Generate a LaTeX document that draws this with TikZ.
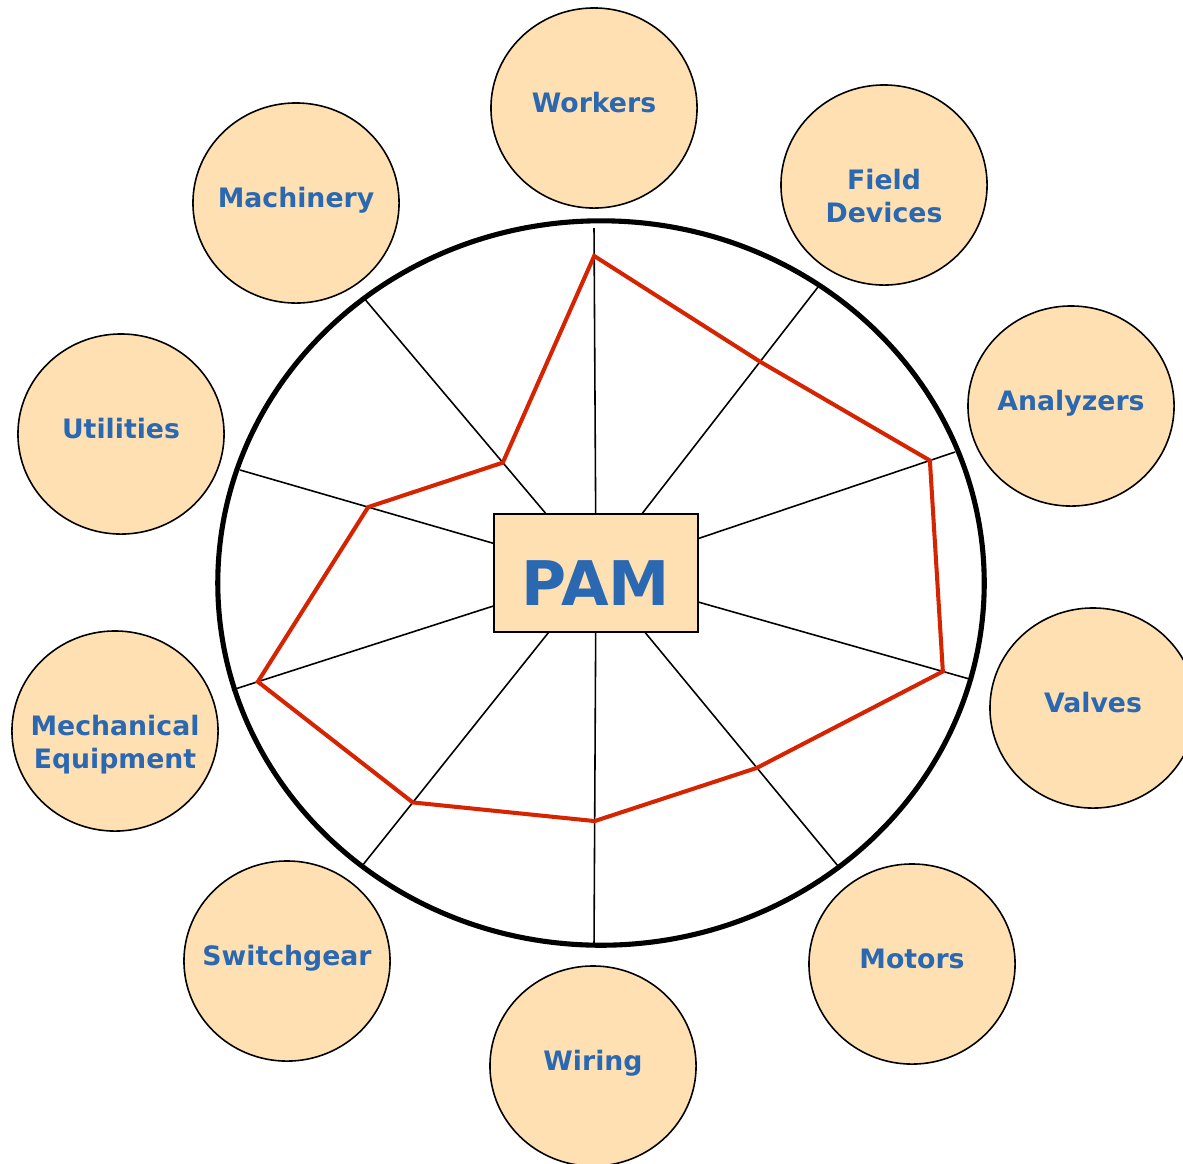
\documentclass[tikz,border=0pt]{standalone}
\usepackage{fontspec}
\setmainfont{DejaVu Sans}
\usetikzlibrary{calc,shapes.geometric,positioning}
\definecolor{mypeach}{RGB}{254,224,178}
\definecolor{myblue}{RGB}{43,104,178}
\definecolor{myred}{RGB}{214,36,0}
\newcommand\bubtext[1]{\makebox[0pt]{\begin{tabular}[t]{@{}c@{}}#1\end{tabular}}}
\tikzset{
    bubble/.style={
        draw, ellipse, fill=mypeach, line width=0.45pt,
        minimum width=2.06cm, minimum height=2.0cm,
        inner sep=0pt, text=myblue,
        text height=6pt, text depth=3.2pt,
        font=\fontsize{7.6}{9.2}\selectfont\bfseries
    }
}

\begin{document}
\begin{tikzpicture}[
      x=0.01cm, y=-0.01cm,
  spoke/.style={line width=0.45pt},
  rim/.style={line width=1.45pt},
  web/.style={myred, line width=1.15pt, line join=miter},
  hub/.style={
    draw,
    fill=mypeach,
    line width=0.5pt,
    minimum width=2.04cm,
    minimum height=1.18cm,
    text height=18.2pt,
    text depth=0pt,
    text=myblue,
    font=\fontsize{17.5}{20}\selectfont\bfseries
    }
      ]
\useasboundingbox (0,0) rectangle (1183,1163);

\coordinate (c) at (596,573);
\foreach \X/\Y [count=\i] in {594/228,818/287,955/452,973/680,838/866,594/946,362/866,232/690,240/470,363/297}
  \coordinate (s\i) at (\X,\Y);

\foreach \i in {1,...,10}
  \draw[spoke] (c) -- (s\i);

\foreach \i/\f in {1/0.919,2/0.739,3/0.930,4/0.920,5/0.665,6/0.665,7/0.783,8/0.929,9/0.640,10/0.400}
  \coordinate (r\i) at ($(c)!\f!(s\i)$);
\draw[web] (r1) -- (r2) -- (r3) -- (r4) -- (r5) -- (r6) -- (r7) -- (r8) -- (r9) -- (r10) -- cycle;

\draw[rim] (601,583) ellipse [x radius=3.83cm, y radius=3.62cm];

\node[hub] (pam) at (c) {PAM};

\node[bubble] (workers) at (594,108) {\bubtext{Workers}};
\node[bubble] (field) at (884,185) {\bubtext{Field\\Devices}};
\node[bubble] (analyzers) at (1071,406) {\bubtext{Analyzers}};
\node[bubble] (valves) at (1093,708) {\bubtext{Valves}};
\node[bubble] (motors) at (912,964) {\bubtext{Motors}};
\node[bubble] (wiring) at (593,1066) {\bubtext{Wiring}};
\node[bubble] (switchgear) at (287,961) {\bubtext{Switchgear}};
\node[bubble] (mech) at (115,731) {\bubtext{Mechanical\\Equipment}};
\node[bubble] (utilities) at (121,434) {\bubtext{Utilities}};
\node[bubble] (machinery) at (296,203) {\bubtext{Machinery}};

% radar web over ten spokes

\end{tikzpicture}
\end{document}
